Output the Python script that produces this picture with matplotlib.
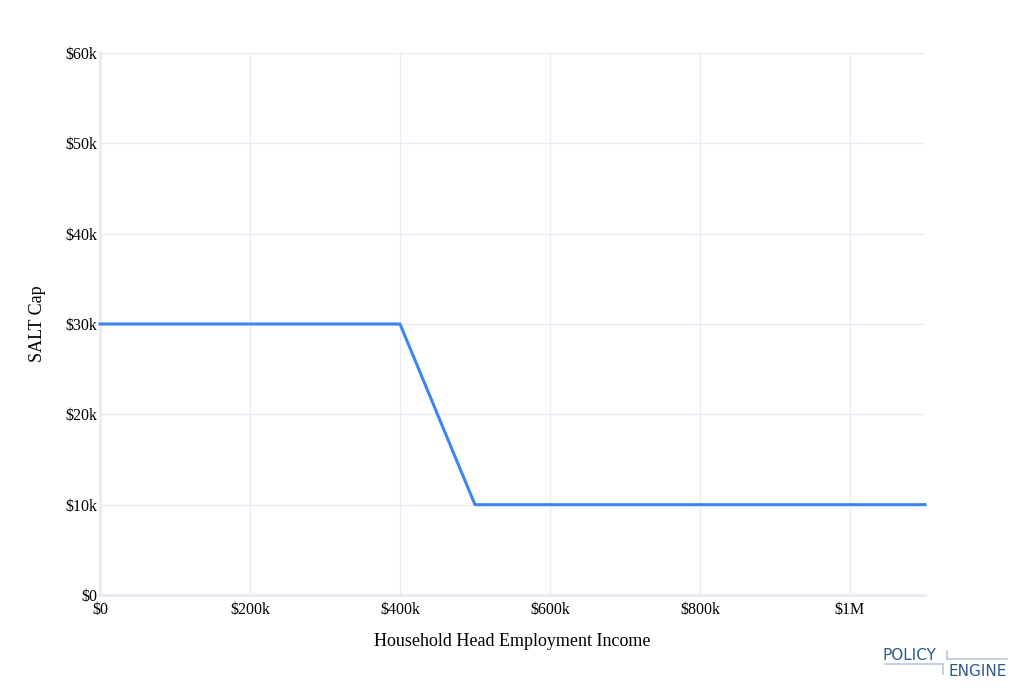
import matplotlib.pyplot as plt
from matplotlib.lines import Line2D
from matplotlib.ticker import FuncFormatter

# household income points and the SALT cap at each
income = [0, 400000, 500000, 1100000]
salt_cap = [30000, 30000, 10000, 10000]

x_ticks = [0, 200000, 400000, 600000, 800000, 1000000]
x_labels = ['$0', '$200k', '$400k', '$600k', '$800k', '$1M']
y_ticks = [0, 10000, 20000, 30000, 40000, 50000, 60000]

plt.rcParams['font.family'] = ['Liberation Serif', 'DejaVu Serif']

W, H = 1024, 690
fig = plt.figure(figsize=(W / 100, H / 100), dpi=100)
ax = fig.add_axes([100 / W, (H - 595) / H, 825 / W, 542 / H])

grid_col = '#e8edf5'
ax.plot(income, salt_cap, color='#3b87f2', linewidth=2.2, zorder=3, clip_on=False)

ax.set_xlim(0, 1100000)
ax.set_ylim(0, 60000)
ax.set_xticks(x_ticks)
ax.set_xticklabels(x_labels)
ax.set_yticks(y_ticks)
ax.yaxis.set_major_formatter(FuncFormatter(lambda v, p: '$0' if v == 0 else f'${int(v / 1000)}k'))

ax.grid(True, color=grid_col, linewidth=1)
ax.set_axisbelow(True)
for s in ['top', 'right']:
    ax.spines[s].set_visible(False)
for s in ['left', 'bottom']:
    ax.spines[s].set_color(grid_col)
    ax.spines[s].set_linewidth(2.2)
ax.tick_params(length=0, labelsize=11.5, colors='black')
ax.tick_params(axis='x', pad=5)
ax.tick_params(axis='y', pad=2)

ax.set_xlabel('Household Head Employment Income', fontsize=13, labelpad=11)
ax.set_ylabel('SALT Cap', fontsize=13, labelpad=14)

# policyengine logo, bottom right
logo_dark = '#2c5a8c'
logo_light = '#b8c8dc'
fig.text(883 / W, 1 - 656 / H, 'POLICY', fontsize=11, color=logo_dark, family='DejaVu Sans',
         va='center', ha='left')
fig.text(949 / W, 1 - 671 / H, 'ENGINE', fontsize=11, color=logo_dark, family='DejaVu Sans',
         va='center', ha='left')
for xs, ys in [([947, 947], [651, 659]), ([947, 1007], [659, 659]),
               ([885, 943], [664, 664]), ([943, 943], [664, 674])]:
    fig.add_artist(Line2D([x / W for x in xs], [1 - y / H for y in ys],
                          color=logo_light, linewidth=1.2))

fig.savefig('out.png', dpi=100)
plt.close(fig)
